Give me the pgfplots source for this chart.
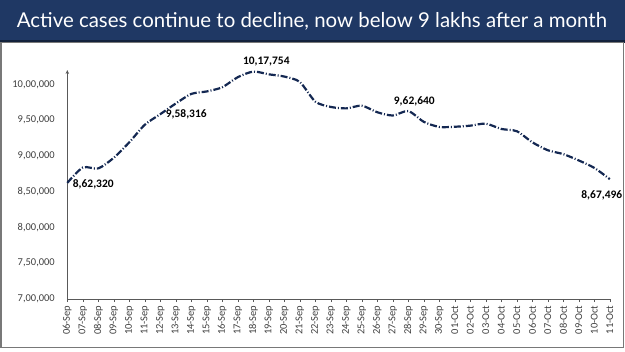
\documentclass[border=0pt]{standalone}
\usepackage{pgfplots}
\pgfplotsset{compat=1.18}
\usepackage{pgfplotstable}
\usepackage{fontspec}
\setmainfont{Carlito}
\newfontfamily\titlefont{Lato}
\usetikzlibrary{arrows.meta}
\definecolor{navy}{RGB}{31,56,100}
\definecolor{linec}{RGB}{20,40,82}
\definecolor{axg}{RGB}{89,89,89}
\definecolor{frameg}{RGB}{120,120,120}
\pgfplotstableread{
x y
0 862320
1 883697
2 882542
3 897394
4 919018
5 943480
6 958316
7 973175
8 986598
9 990061
10 995933
11 1009976
12 1017754
13 1013964
14 1010824
15 1003299
16 975861
17 968377
18 966382
19 970116
20 960969
21 956402
22 962640
23 947576
24 940441
25 940705
26 942217
27 944996
28 937625
29 934427
30 919023
31 907883
32 902425
33 893592
34 883185
35 867496
}\data
\begin{document}
\begin{tikzpicture}[x=1bp,y=1bp]
\path[use as bounding box] (0,0) rectangle (625,351);
\fill[navy] (0,311) rectangle (625,351);
\fill[navy!60!black] (0,308.5) rectangle (625,311);
\draw[frameg, line width=1.5bp] (1,3.5) rectangle (623.5,308.3);
\node[anchor=base west, text=white, font=\titlefont\fontsize{20.5}{24}\selectfont, inner sep=0] at (16.7,323.3) {Active cases continue to decline, now below 9 lakhs after a month};
\begin{axis}[
  at={(67.3bp,52bp)}, anchor=south west,
  scale only axis, width=542.5bp, height=229bp,
  xmin=0, xmax=35, ymin=700000, ymax=1020000,
  clip=false,
  scaled y ticks=false,
  axis x line=bottom, axis y line=left,
  x axis line style={-, axg, line width=0.8bp},
  y axis line style={-{Stealth[length=4bp,width=3.5bp]}, axg, line width=0.8bp},
  xtick={0,...,35},
  xticklabels={06-Sep,07-Sep,08-Sep,09-Sep,10-Sep,11-Sep,12-Sep,13-Sep,14-Sep,15-Sep,16-Sep,17-Sep,18-Sep,19-Sep,20-Sep,21-Sep,22-Sep,23-Sep,24-Sep,25-Sep,26-Sep,27-Sep,28-Sep,29-Sep,30-Sep,01-Oct,02-Oct,03-Oct,04-Oct,05-Oct,06-Oct,07-Oct,08-Oct,09-Oct,10-Oct,11-Oct},
  ytick={700000,750000,800000,850000,900000,950000,1000000},
  yticklabels={{7,00,000},{7,50,000},{8,00,000},{8,50,000},{9,00,000},{9,50,000},{10,00,000}},
  tick align=outside,
  major tick length=3bp,
  x tick style={axg, line width=0.6bp},
  y tick style={draw=none},
  xticklabel style={rotate=90, anchor=east, font=\fontsize{10.5}{12}\selectfont, text=axg!70!black},
  yticklabel style={font=\fontsize{10.5}{12}\selectfont, text=axg!70!black, xshift=-6bp},
]
\addplot[linec, line width=2.2bp, smooth, tension=0.45, dash pattern=on 7bp off 2bp on 1bp off 2bp] table[x=x,y=y]{\data};
\node[anchor=west, inner sep=0, xshift=5.4bp, yshift=-1bp, font=\bfseries\fontsize{11.5}{13}\selectfont] at (axis cs:0,862320) {8,62,320};
\node[anchor=west, inner sep=0, xshift=5.4bp, font=\bfseries\fontsize{11.5}{13}\selectfont] at (axis cs:6,958316) {9,58,316};
\node[anchor=south, inner sep=0, xshift=13bp, yshift=5bp, font=\bfseries\fontsize{11.5}{13}\selectfont] at (axis cs:12,1017754) {10,17,754};
\node[anchor=south, inner sep=0, xshift=6bp, yshift=5bp, font=\bfseries\fontsize{11.5}{13}\selectfont] at (axis cs:22,962640) {9,62,640};
\node[anchor=north, inner sep=0, xshift=-8bp, yshift=-11bp, font=\bfseries\fontsize{11.5}{13}\selectfont] at (axis cs:35,867496) {8,67,496};
\end{axis}
\end{tikzpicture}
\end{document}
